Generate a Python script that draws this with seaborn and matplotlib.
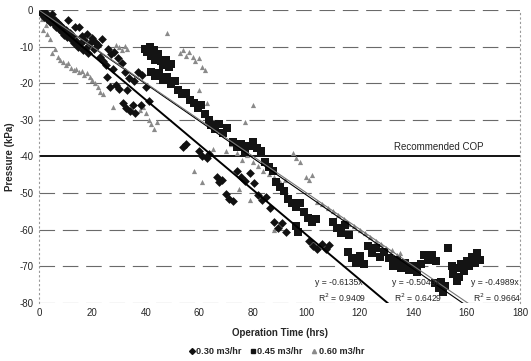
import numpy as np
import pandas as pd
import seaborn as sns
import matplotlib
matplotlib.use("Agg")
import matplotlib.pyplot as plt
from matplotlib.lines import Line2D

# ---------------- data ----------------
series_names = ["0.30 m3/hr", "0.45 m3/hr", "0.60 m3/hr"]

x030 = [0.5, 1, 1.5, 2, 2.5, 3, 3.5, 4, 4.5, 5, 5.5, 6, 6.5, 7, 7.5, 8, 8.5, 9, 9.5, 10,
        10.5, 11, 11.5, 12, 12.5, 13, 13.5, 14, 14.5, 15, 15.5, 16, 16.5, 17, 17.5, 18,
        18.5, 19, 20, 20.5, 21, 22, 23, 23.5, 24, 25, 25.4, 26, 26.5, 27, 27.7, 28, 29,
        29.5, 30, 31, 31.5, 32, 32.5, 33, 33.5, 34, 35, 35.5, 36, 37, 38, 38.5, 40, 41,
        54, 55, 60, 61, 62.8, 63.5, 66.5, 67.5, 68.5, 70, 71, 72.5, 74, 75.5, 77, 79,
        80.5, 82, 83.5, 85, 86.5, 88, 89.5, 91, 92.5, 101, 102.5, 104, 106, 107.5, 108.5]
y030 = [-0.5, -1.2, -0.3, -1.8, -0.8, -2.5, -1.5, -3.2, -2, -1, -3.8, -2.6, -4.5, -3.4,
        -5.2, -4, -6, -4.8, -6.8, -5.5, -7.4, -2.7, -6.3, -8, -7, -9, -4.6, -8.4, -10,
        -4.6, -9.3, -7, -11, -8.2, -10.3, -6.5, -11.8, -9, -7.5, -10.5, -8.6, -9.5, -12.8,
        -7.8, -14, -15, -18.3, -10.6, -21, -12, -16, -11.5, -20.5, -13, -21.5, -14.5,
        -25.5, -17, -26.8, -21.8, -18.5, -27.5, -26, -19.5, -28, -16.8, -26, -17.8, -21,
        -24.8, -37.4, -36.6, -38.5, -40, -40.5, -39.2, -45.6, -47, -46.3, -50.2, -51.5,
        -52.2, -44, -45.5, -46.8, -44.5, -47.2, -50.5, -52, -51, -54, -57.8, -59.5, -58.2,
        -60.6, -63, -64.5, -65.2, -63.8, -65.4, -64.3]

x045 = [39.5, 40.5, 41.5, 42, 43, 43.5, 44.5, 45.5, 46.5, 47.5, 48.5, 49.5, 42, 43.5, 45,
        46.5, 48, 49.5, 51, 52, 53.5, 55, 56.5, 58, 59.5, 60.5, 62, 63.5, 64.5, 66, 67.5,
        69, 70.5, 72.5, 74, 75.5, 77, 78.5, 80, 81.5, 83, 84.5, 86, 87.5, 88.5, 90, 91.5,
        93, 94.5, 96, 97.5, 99, 100.5, 102, 103.5, 96, 97, 110, 111.5, 113, 114.5, 116,
        115.5, 117, 118.5, 120, 121.5, 123, 124.5, 126, 127.5, 129, 131, 132.5, 134, 135.5,
        137, 138.5, 140, 141.5, 143, 144, 145.5, 147, 148.5, 148, 149.5, 150.5, 151, 152,
        153, 155, 156, 157, 158, 159, 160, 161, 162, 163, 164, 165, 156.5, 154.5]
y045 = [-10.5, -11.5, -10.2, -12.5, -11, -13.5, -12, -13.8, -15, -13.5, -15.5, -14.6,
        -16.8, -18, -17.2, -19, -18.2, -20.2, -19.5, -21.8, -23, -22.6, -24.5, -25.5,
        -26.8, -25.8, -28.5, -30, -31.5, -32.5, -31, -33.5, -32.2, -36, -37.5, -36.5,
        -38.8, -37.2, -36, -37.8, -38.5, -41.5, -42.8, -44, -47, -48.2, -49.5, -51.5,
        -52.6, -53.8, -52.8, -55.2, -56.8, -58, -57, -59, -60.5, -58, -59.5, -60.8, -58.6,
        -61.5, -66, -67.8, -69, -67.2, -69.5, -64.5, -66.4, -65, -67.5, -66.2, -67.8,
        -69.8, -68.2, -70.5, -69.2, -71, -70, -71.6, -69.5, -67, -68.2, -66.8, -68.5,
        -74.5, -76, -74.2, -77, -75.5, -65, -72.2, -70.5, -73, -69.5, -71.2, -68.5, -70,
        -67.4, -69, -66.4, -68.2, -74, -70]

x060 = [1, 1.5, 2.5, 3, 4, 5, 6, 7, 8, 9, 10, 11, 12, 13, 14, 15, 16, 17, 18, 19, 20, 21,
        22, 23, 24, 27.7, 29, 30, 31, 32, 33, 37.7, 39, 40, 41, 42, 43, 44, 48, 52.7, 54,
        55, 56, 57.6, 58.5, 60, 61, 62, 60, 62.8, 63, 65, 70, 72, 74, 76, 78, 80, 82, 84,
        86, 88, 90, 92, 95, 96, 97.5, 100, 101, 102, 104, 106, 108, 110, 112, 114, 116,
        118, 120, 122, 124, 126, 128, 130, 132, 134, 135, 77, 80, 58, 61, 75, 79, 88]
y060 = [-2.5, -5.5, -4, -6.5, -8, -11.8, -10.5, -12.8, -13.5, -14.2, -15, -14.5, -15.8,
        -16.4, -16, -17, -16.6, -17.8, -17.2, -18.3, -19, -19.8, -21, -22.4, -23, -26.5,
        -9.5, -10, -11, -9.8, -10.5, -27.3, -26.5, -28, -30, -31, -32.5, -30.5, -6.3,
        -11.8, -11, -12.5, -11.5, -12.8, -14, -13.2, -15.6, -16.4, -21.9, -25.4, -40, -38,
        -38.5, -36.5, -39, -41, -39.5, -41.5, -42.5, -44, -44.8, -45.5, -47, -46.5, -39,
        -40.5, -41.5, -45.6, -46.4, -45, -52.5, -53, -54.2, -55, -56, -57, -58.5, -59, -60,
        -61, -62, -63, -64, -65, -65.6, -67, -66.4, -30.5, -26, -44, -47, -49, -52, -60]

trend_slopes = [-0.6135, -0.5049, -0.4989]
trend_r2 = [0.9409, 0.6429, 0.9664]
cop_level = -40
x_ticks = [0, 20, 40, 60, 80, 100, 120, 140, 160, 180]
y_ticks = [0, -10, -20, -30, -40, -50, -60, -70, -80]

df = pd.concat([
    pd.DataFrame({"t": x030, "p": y030, "rate": series_names[0]}),
    pd.DataFrame({"t": x045, "p": y045, "rate": series_names[1]}),
    pd.DataFrame({"t": x060, "p": y060, "rate": series_names[2]}),
], ignore_index=True)

# ---------------- drawing ----------------
sns.set_theme(style="white")
plt.rcParams["font.family"] = ["Liberation Sans", "DejaVu Sans"]

fig = plt.figure(figsize=(5.31, 3.61), dpi=100)
ax = fig.add_axes([0.0734, 0.161, 0.906, 0.811])

for yv in y_ticks:
    if yv == cop_level:
        continue
    ax.axhline(yv, color="#6a6a6a", lw=0.8, ls=(0, (14, 7)), zorder=0)

palette = {series_names[0]: "#111111", series_names[1]: "#141414", series_names[2]: "#8a8a8a"}
markers = {series_names[0]: "D", series_names[1]: "s", series_names[2]: "^"}
sizes_map = {series_names[0]: 20, series_names[1]: 30, series_names[2]: 14}
for name in [series_names[2], series_names[0], series_names[1]]:
    sub = df[df["rate"] == name]
    sns.scatterplot(data=sub, x="t", y="p", color=palette[name], marker=markers[name],
                    s=sizes_map[name], linewidth=0, ax=ax, legend=False, zorder=3)

# trend lines through origin
xl = np.array([0, 170])
ax.plot(xl, trend_slopes[0] * xl, color="black", lw=1.4, zorder=4)
ax.plot(xl, trend_slopes[1] * xl, color="black", lw=0.8, zorder=4)
ax.plot(xl, trend_slopes[2] * xl, color="#777777", lw=0.8, zorder=4)

# recommended COP
ax.axhline(cop_level, color="black", lw=1.3, zorder=2)
ax.text(133, cop_level + 1.2, "Recommended COP", fontsize=7, ha="left", va="bottom")

# trend labels
lab_pos = [(103.3, -74.5), (132, -74.5), (161.5, -74.5)]
for (lx, ly), m, r in zip(lab_pos, trend_slopes, trend_r2):
    ax.text(lx, ly, f"y = {m:.4f}x", fontsize=6.2, ha="left", va="center", zorder=6)
    ax.text(lx + 1, ly - 4, f"R$^2$ = {r:.4f}", fontsize=6.2, ha="left", va="center", zorder=6)

ax.set_xlim(0, 180)
ax.set_ylim(-80, 0)
ax.set_xticks(x_ticks)
ax.set_yticks(y_ticks)
ax.set_xticklabels([str(v) for v in x_ticks], fontsize=7)
ax.set_yticklabels([str(v) for v in y_ticks], fontsize=7)
ax.tick_params(axis="both", length=0, pad=4)
ax.set_xlabel("Operation Time (hrs)", fontsize=7, fontweight="bold", labelpad=7)
ax.set_ylabel("Pressure (kPa)", fontsize=7, fontweight="bold")
ax.yaxis.set_label_coords(-0.05, 0.5)

for side in ["top", "bottom"]:
    ax.spines[side].set_visible(False)
for side in ["left", "right"]:
    ax.spines[side].set_visible(True)
    ax.spines[side].set_color("#999999")
    ax.spines[side].set_linestyle((0, (1, 3)))
    ax.spines[side].set_linewidth(0.8)

handles = [Line2D([], [], marker=markers[n], color=palette[n], ls="", markersize=3) for n in series_names]
fig.legend(handles, series_names, loc="center", bbox_to_anchor=(0.52, 0.025), ncol=3,
           frameon=False, prop={"size": 6.6, "weight": "bold"}, handletextpad=0.1,
           columnspacing=0.8, handlelength=0.8)

fig.savefig("out.png", dpi=100, facecolor="white")
